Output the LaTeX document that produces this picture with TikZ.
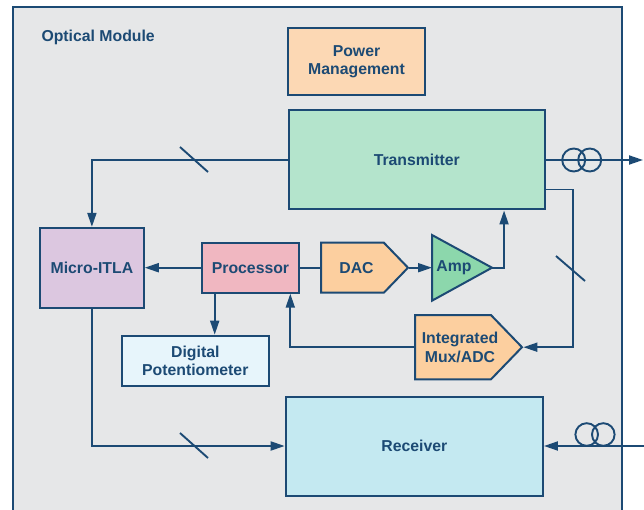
\documentclass[tikz,border=0pt]{standalone}
\usepackage{fontspec}
\setmainfont{Liberation Sans}
\usetikzlibrary{arrows.meta, calc, shapes.symbols}
\definecolor{ADINavy}{HTML}{1C4A74}
\definecolor{CModule}{HTML}{E6E7E8}
\definecolor{CPower}{HTML}{FCD8B4}
\definecolor{CTx}{HTML}{B4E4CC}
\definecolor{CItla}{HTML}{DCC7E0}
\definecolor{CProc}{HTML}{F0B7C1}
\definecolor{CConv}{HTML}{FCCF9F}
\definecolor{CAmp}{HTML}{8CD7AC}
\definecolor{CPot}{HTML}{E7F5FB}
\definecolor{CRx}{HTML}{C4E9F1}

\begin{document}
\begin{tikzpicture}[x=1pt, y=-1pt,
    label/.style={text=ADINavy, font=\bfseries\fontsize{15.8}{18.5}\selectfont, align=center},
    block/.style={label, draw=ADINavy, line width=2pt, inner sep=0pt},
    conv/.style={block, signal, signal to=east, signal pointer angle=92, fill=CConv, anchor=west},
    conn/.style={ADINavy, line width=1.9pt},
    arr/.style={conn, -{Triangle[length=14pt, width=9pt]}}]
    \useasboundingbox (0,0) rectangle (644,510);

    % Module outline
    \fill[CModule] (13,7) rectangle (622,530);
    \draw[ADINavy, line width=2pt] (13,530) -- (13,7) -- (622,7) -- (622,530);
    \node[label, anchor=west] (title) at (38,37) {Optical Module};

    % Blocks
    \node[block, fill=CPower, minimum width=137, minimum height=67] (pwr) at (356.5,61.5) {Power\\Management};
    \node[block, fill=CTx, minimum width=256.5, minimum height=99] (tx) at (416.8,160) {Transmitter};
    \node[block, fill=CItla, minimum width=103.7, minimum height=79.7] (mitla) at (91.9,267.7) {Micro-ITLA};
    \node[block, fill=CProc, minimum width=97.6, minimum height=50] (proc) at (250.5,267.7) {Processor};
    \node[block, fill=CPot, minimum width=146.7, minimum height=50.3] (dpot) at (195.3,360.8) {Digital\\Potentiometer};
    \node[block, fill=CRx, minimum width=257.3, minimum height=99] (rx) at (414.3,446) {Receiver};

    % Converters
    \node[conv, minimum width=87, minimum height=50] (dac) at (320,267.7) {};
    \node[label] (daclabel) at ($(dac.west)+(36.5,0)$) {DAC};
    \node[conv, minimum width=107, minimum height=64.3] (mux) at (414,347.2) {};
    \node[label] (muxlabel) at ($(mux.west)+(46,0)$) {Integrated\\Mux/ADC};

    % Amplifier
    \draw[ADINavy, line width=2pt, fill=CAmp] (432,235) -- (492,267.7) -- (432,300.7) -- cycle;
    \node[label] (amp) at (454,267.7) {Amp};
    \coordinate (ampin) at (432,267.7);
    \coordinate (ampout) at (492,267.7);

    % Fibres
    \coordinate (txfiber) at (643,160);
    \coordinate (rxfiber) at (650,446);
    \draw[conn] (573.7,160) circle (11.5) (589.7,160) circle (11.5);
    \draw[conn] (586.7,434.5) circle (11.3) (603.3,434.5) circle (11.3);

    % Connections
    \draw[arr] (tx.east) -- (txfiber);
    \draw[arr] (rxfiber) -- (rx.east);
    \draw[arr] (tx.west) -| (mitla.north);
    \draw[arr] (proc.west) -- (mitla.east);
    \draw[conn] (proc.east) -- (dac.west);
    \draw[arr] (dac.east) -- (ampin);
    \draw[arr] (ampout) -| ($(tx.south east)+(-42,0)$);
    \draw[arr] ($(tx.south east)+(0,-21)$) -- ++(26.5,0) |- (mux.east);
    \draw[arr] (mux.west) -| ($(proc.south east)+(-10,0)$);
    \draw[arr] ($(proc.south west)+(14,0)$) coordinate (pd) -- (pd |- dpot.north);
    \draw[arr] (mitla.south) |- (rx.west);

    % Bus marks
    \draw[conn] (180,147) -- (208,172);
    \draw[conn] (180,433) -- (208,458);
    \draw[conn] (556,256) -- (585,281);
\end{tikzpicture}
\end{document}
